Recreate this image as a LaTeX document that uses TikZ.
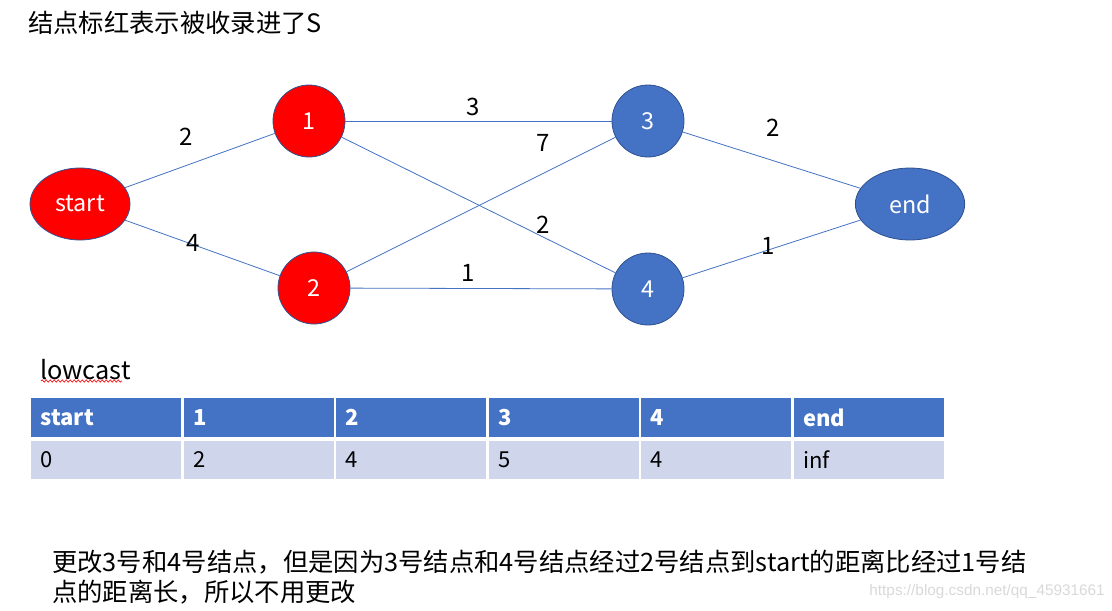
\documentclass[tikz,border=0pt]{standalone}
\usepackage{fontspec}
\setmainfont{Noto Sans CJK SC}
\newfontfamily\wmfont{Liberation Sans}
\usetikzlibrary{shapes.geometric,decorations.pathmorphing}
\definecolor{nodeblue}{HTML}{4472C4}
\definecolor{edgeblue}{HTML}{4472C4}
\definecolor{rimblue}{HTML}{2F528F}
\definecolor{bodyfill}{HTML}{CFD5EA}
\definecolor{nodered}{HTML}{FF0000}
\tikzset{
  vtx/.style={circle, draw=rimblue, line width=0.6pt, minimum size=54pt, inner sep=0pt, text=white, font=\fontsize{17.5}{20}\selectfont},
  redvtx/.style={vtx, fill=nodered},
  bluevtx/.style={vtx, fill=nodeblue},
  endvtx/.style={ellipse, draw=rimblue, line width=0.6pt, minimum width=75pt, minimum height=54pt, inner sep=0pt, text=white, font=\fontsize{17.5}{20}\selectfont},
  link/.style={draw=edgeblue, line width=0.6pt},
  wlabel/.style={font=\fontsize{18}{20}\selectfont, inner sep=0pt},
  cell/.style={minimum height=28.5pt, text width=98.5pt, inner xsep=7pt, inner ysep=0pt, align=left, font=\fontsize{16.5}{18}\selectfont},
  hcell/.style={cell, fill=nodeblue, text=white, font=\fontsize{16.5}{18}\selectfont\bfseries, minimum height=29pt},
  bcell/.style={cell, fill=bodyfill, text=black},
  prose/.style={anchor=west, inner sep=0pt, font=\fontsize{19}{22}\selectfont}
}
\begin{document}
\begin{tikzpicture}[x=0.75pt,y=-0.75pt]
\useasboundingbox[fill=white] (0,0) rectangle (1112,610);
% title
\node[prose] (title) at (28,23) {结点标红表示被收录进了S};
% vertices
\node[endvtx, fill=nodered] (start) at (80,204) {start};
\node[redvtx] (n1) at (309,121) {1};
\node[redvtx] (n2) at (314,288) {2};
\node[bluevtx] (n3) at (648,121) {3};
\node[bluevtx] (n4) at (648,289) {4};
\node[endvtx, fill=nodeblue, minimum width=82pt] (end) at (910,204) {end};
% edges
\draw[link] (start) -- (n1);
\draw[link] (start) -- (n2);
\draw[link] (n1) -- (n3);
\draw[link] (n1) -- (n4);
\draw[link] (n2) -- (n3);
\draw[link] (n2) -- (n4);
\draw[link] (n3) -- (end);
\draw[link] (n4) -- (end);
% weights
\node[wlabel] (w01) at (186,137) {2};
\node[wlabel] (w02) at (193,243) {4};
\node[wlabel] (w13) at (473,107) {3};
\node[wlabel] (w23) at (543,143) {7};
\node[wlabel] (w14) at (543,225) {2};
\node[wlabel] (w24) at (468,273) {1};
\node[wlabel] (w3e) at (773,128) {2};
\node[wlabel] (w4e) at (768,246) {1};
% lowcast
\node[prose] (lc) at (40,370) {lowcast};
\draw[red, line width=0.5pt, decorate, decoration={snake, amplitude=0.8pt, segment length=3pt}] (41,381) -- (122,381);
% table
\node[hcell] (h1) at (106.25,417.5) {start};
\node[hcell] (h2) at (258.75,417.5) {1};
\node[hcell] (h3) at (411.25,417.5) {2};
\node[hcell] (h4) at (563.75,417.5) {3};
\node[hcell] (h5) at (716.25,417.5) {4};
\node[hcell] (h6) at (868.75,417.5) {end};
\node[bcell] (b1) at (106.25,460) {0};
\node[bcell] (b2) at (258.75,460) {2};
\node[bcell] (b3) at (411.25,460) {4};
\node[bcell] (b4) at (563.75,460) {5};
\node[bcell] (b5) at (716.25,460) {4};
\node[bcell] (b6) at (868.75,460) {inf};
% bottom text
\node[prose] (txt1) at (52,562) {更改3号和4号结点，但是因为3号结点和4号结点经过2号结点到start的距离比经过1号结};
\node[prose] (txt2) at (52,592) {点的距离长，所以不用更改};
% watermark
\node[anchor=east, inner sep=0pt, text=black!15, font=\wmfont\fontsize{11.5}{13}\selectfont] (wm) at (1105,592) {https://blog.csdn.net/qq\_45931661};
\end{tikzpicture}
\end{document}
